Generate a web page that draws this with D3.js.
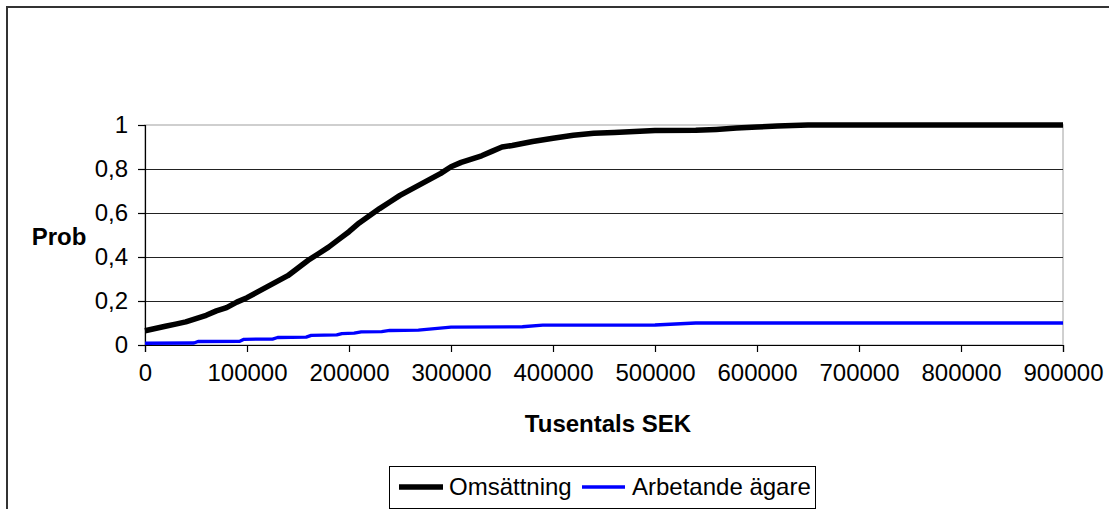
<!DOCTYPE html>
<html>
<head>
<meta charset="utf-8">
<script src="https://cdn.jsdelivr.net/npm/d3@7"></script>
<style>
  html, body { margin: 0; padding: 0; background: #fff; }
  svg { display: block; font-family: "Liberation Sans", Arial, Helvetica, sans-serif; }
</style>
</head>
<body>
<svg id="chart" width="1109" height="509"></svg>
<script>
// Turnover in thousands of SEK (x) and cumulative probability (y)
const omsX = [0, 10, 20, 30, 40, 50, 60, 70, 80, 90, 100, 110, 120, 130, 140, 150, 160, 170, 180, 190,
              200, 210, 220, 230, 240, 250, 260, 270, 280, 290, 300, 310, 320, 330, 340, 350, 360, 380,
              400, 420, 440, 460, 500, 540, 560, 580, 600, 620, 650, 700, 800, 900];
const omsY = [0.065, 0.075, 0.085, 0.095, 0.105, 0.12, 0.135, 0.155, 0.17, 0.195, 0.215, 0.24, 0.265, 0.29,
              0.315, 0.35, 0.385, 0.415, 0.445, 0.48, 0.515, 0.555, 0.588, 0.62, 0.65, 0.68, 0.705, 0.73,
              0.755, 0.78, 0.81, 0.83, 0.845, 0.86, 0.88, 0.90, 0.907, 0.925, 0.94, 0.953, 0.962, 0.966,
              0.975, 0.976, 0.98, 0.986, 0.991, 0.995, 1.0, 1.0, 1.0, 1.0];

// Working owners series
const agareX = [0, 48, 52, 93, 97, 125, 130, 158, 163, 188, 193, 205, 212, 232, 240, 268, 300, 370, 390,
                500, 540, 900];
const agareY = [0.008, 0.009, 0.016, 0.017, 0.026, 0.027, 0.034, 0.036, 0.044, 0.046, 0.052, 0.054, 0.060,
                0.061, 0.066, 0.068, 0.081, 0.083, 0.090, 0.091, 0.100, 0.100];

const xTicks = [0, 100000, 200000, 300000, 400000, 500000, 600000, 700000, 800000, 900000];
const yTicks = [0, 0.2, 0.4, 0.6, 0.8, 1];

const seriesNames = ["Omsättning", "Arbetande ägare"];
const seriesColors = ["#000000", "#0000ff"];

const svg = d3.select("#chart");
const plot = { left: 145, right: 1063, top: 125, bottom: 345 };

const x = d3.scaleLinear().domain([0, 900000]).range([plot.left, plot.right]);
const y = d3.scaleLinear().domain([0, 1]).range([plot.bottom, plot.top]);

// Chart frame
svg.append("rect")
  .attr("x", 7).attr("y", 7)
  .attr("width", 1200).attr("height", 600)
  .attr("fill", "#fff")
  .attr("stroke", "#333").attr("stroke-width", 2);

// Plot area border (light grey top and right)
svg.append("rect")
  .attr("x", plot.left).attr("y", plot.top)
  .attr("width", plot.right - plot.left).attr("height", plot.bottom - plot.top)
  .attr("fill", "#fff")
  .attr("stroke", "#c0c0c0").attr("stroke-width", 1.5);

// Horizontal gridlines
svg.append("g")
  .selectAll("line")
  .data(yTicks.filter(t => t > 0 && t < 1))
  .join("line")
  .attr("x1", plot.left).attr("x2", plot.right)
  .attr("y1", d => Math.round(y(d)) + 0.5).attr("y2", d => Math.round(y(d)) + 0.5)
  .attr("stroke", "#222").attr("stroke-width", 1.2);

// Y axis
const yAxis = d3.axisLeft(y)
  .tickValues(yTicks)
  .tickSize(7)
  .tickPadding(10)
  .tickFormat(d => d3.format("~g")(d).replace(".", ","));
const gy = svg.append("g").attr("transform", `translate(${plot.left},0)`).call(yAxis);
gy.select(".domain").attr("stroke", "#000").attr("stroke-width", 1.2);
gy.selectAll(".tick line").attr("stroke", "#000").attr("stroke-width", 1.2);
gy.selectAll(".tick text")
  .attr("font-size", 24).attr("fill", "#000")
  .attr("font-family", "'Liberation Sans', Arial, sans-serif");

// X axis
const xAxis = d3.axisBottom(x)
  .tickValues(xTicks)
  .tickSize(7)
  .tickPadding(12)
  .tickFormat(d3.format("d"));
const gx = svg.append("g").attr("transform", `translate(0,${plot.bottom})`).call(xAxis);
gx.select(".domain").attr("stroke", "#000").attr("stroke-width", 1.2);
gx.selectAll(".tick line").attr("stroke", "#000").attr("stroke-width", 1.2);
gx.selectAll(".tick text")
  .attr("font-size", 24).attr("fill", "#000")
  .attr("font-family", "'Liberation Sans', Arial, sans-serif");

// Axis titles
svg.append("text")
  .attr("x", 59).attr("y", 245)
  .attr("text-anchor", "middle")
  .attr("font-size", 24).attr("font-weight", "bold")
  .text("Prob");

svg.append("text")
  .attr("x", (plot.left + plot.right) / 2 + 4).attr("y", 432)
  .attr("text-anchor", "middle")
  .attr("font-size", 24).attr("font-weight", "bold")
  .text("Tusentals SEK");

// Series lines
const line = d3.line().x(d => x(d[0] * 1000)).y(d => y(d[1]));

svg.append("path")
  .datum(agareX.map((v, i) => [v, agareY[i]]))
  .attr("d", line)
  .attr("fill", "none")
  .attr("stroke", seriesColors[1]).attr("stroke-width", 3.3)
  .attr("stroke-linejoin", "round");

svg.append("path")
  .datum(omsX.map((v, i) => [v, omsY[i]]))
  .attr("d", line)
  .attr("fill", "none")
  .attr("stroke", seriesColors[0]).attr("stroke-width", 5.5)
  .attr("stroke-linejoin", "round");

// Legend
const legend = svg.append("g");
legend.append("rect")
  .attr("x", 389.5).attr("y", 466.5)
  .attr("width", 426).attr("height", 42)
  .attr("fill", "#fff").attr("stroke", "#000").attr("stroke-width", 1);

const legendItems = [
  { name: seriesNames[0], color: seriesColors[0], width: 5.5, x1: 399, x2: 443, tx: 449 },
  { name: seriesNames[1], color: seriesColors[1], width: 3.3, x1: 582, x2: 625, tx: 632 }
];
legendItems.forEach(it => {
  legend.append("line")
    .attr("x1", it.x1).attr("x2", it.x2)
    .attr("y1", 487).attr("y2", 487)
    .attr("stroke", it.color).attr("stroke-width", it.width);
  legend.append("text")
    .attr("x", it.tx).attr("y", 495)
    .attr("font-size", 24).attr("fill", "#000")
    .text(it.name);
});
</script>
</body>
</html>
